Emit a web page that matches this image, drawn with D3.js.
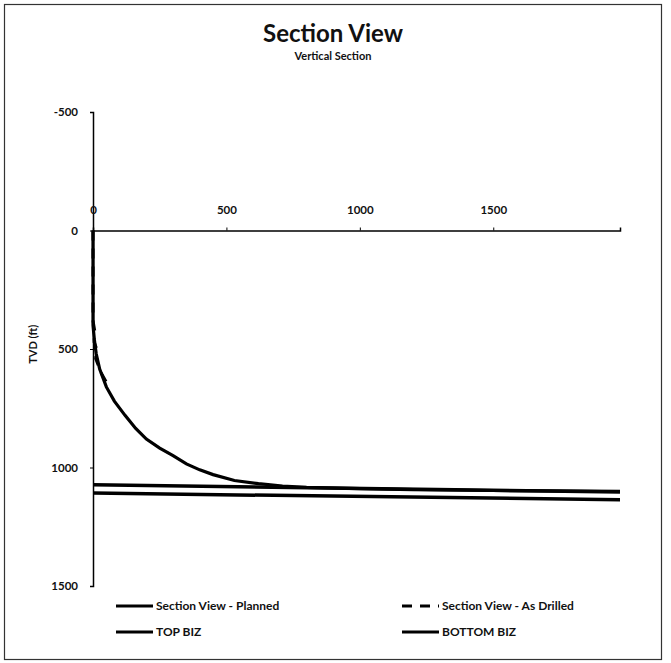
<!DOCTYPE html>
<html>
<head>
<meta charset="utf-8">
<script src="https://cdn.jsdelivr.net/npm/d3@7"></script>
<style>
  body { margin: 0; background: #fff; }
  text { font-family: Lato, "Open Sans", sans-serif; font-weight: bold; fill: #111; }
</style>
</head>
<body>
<div id="vis"></div>
<script>
var width = 671, height = 663;

// data: [vertical section (ft), TVD (ft)]
const planned = [
    [0, 0], [0, 400], [5, 460], [12, 520], [25, 585], [50, 660], [80, 720],
    [120, 780], [160, 835], [200, 880], [250, 918], [300, 950], [350, 985],
    [400, 1010], [450, 1030], [530, 1055], [620, 1068], [710, 1078],
    [800, 1084], [1000, 1089], [1200, 1093], [1500, 1097], [1975, 1101]
];
const asDrilled = [
    [0, 0], [0, 380], [6, 420], [4, 470], [14, 500], [10, 540], [30, 600], [60, 660]
];
const topBiz = [[0, 1073], [1975, 1103]];
const bottomBiz = [[0, 1108], [1975, 1136]];

const xTicks = [0, 500, 1000, 1500];
const yTicks = [-500, 0, 500, 1000, 1500];

const legendItems = [
    { name: "Section View - Planned", dash: null },
    { name: "Section View - As Drilled", dash: "10,8" },
    { name: "TOP BIZ", dash: null },
    { name: "BOTTOM BIZ", dash: null }
];

const svg = d3.select("#vis")
    .append("svg")
    .attr("width", width)
    .attr("height", height);

// chart frame
svg.append("rect")
    .attr("x", 4.5).attr("y", 4.5)
    .attr("width", 657).attr("height", 655)
    .attr("fill", "none")
    .attr("stroke", "#333")
    .attr("stroke-width", 1.2);

svg.append("text")
    .attr("x", 333).attr("y", 42)
    .attr("text-anchor", "middle")
    .style("font-size", "24px")
    .text("Section View");

svg.append("text")
    .attr("x", 333).attr("y", 60)
    .attr("text-anchor", "middle")
    .style("font-size", "11px")
    .text("Vertical Section");

const x = d3.scaleLinear().domain([0, 1975]).range([93, 620]);
const y = d3.scaleLinear().domain([-500, 1500]).range([112, 586]);

// y axis
const yAxis = svg.append("g")
    .attr("transform", `translate(${x(0)},0)`)
    .call(d3.axisLeft(y).tickValues(yTicks).tickFormat(d => String(d)).tickSize(3).tickPadding(12));
yAxis.select(".domain").attr("stroke", "#000").attr("stroke-width", 1.5);
yAxis.selectAll("text").style("font-size", "11.5px").style("font-family", "Lato, sans-serif").attr("fill", "#111");

// x axis (drawn at TVD 0, labels on top)
const xAxis = svg.append("g")
    .attr("transform", `translate(0,${y(0)})`)
    .call(d3.axisTop(x).tickValues(xTicks).tickFormat(d => String(d)).tickSize(3).tickPadding(14));
xAxis.select(".domain").attr("stroke", "#000").attr("stroke-width", 1.5);
xAxis.selectAll("text").style("font-size", "11.5px").style("font-family", "Lato, sans-serif").attr("fill", "#111");

svg.append("text")
    .attr("transform", `translate(37,${y(480)}) rotate(-90)`)
    .attr("text-anchor", "middle")
    .style("font-size", "11px")
    .text("TVD (ft)");

const line = d3.line().x(d => x(d[0])).y(d => y(d[1]));

svg.append("path").datum(topBiz)
    .attr("d", line).attr("fill", "none")
    .attr("stroke", "#000").attr("stroke-width", 3.5);
svg.append("path").datum(bottomBiz)
    .attr("d", line).attr("fill", "none")
    .attr("stroke", "#000").attr("stroke-width", 3.5);
svg.append("path").datum(planned)
    .attr("d", line)
    .attr("fill", "none")
    .attr("stroke", "#000").attr("stroke-width", 3.2);
svg.append("path").datum(asDrilled)
    .attr("d", line).attr("fill", "none")
    .attr("stroke", "#000").attr("stroke-width", 3)
    .attr("stroke-dasharray", "10,8");

// legend, 2 x 2
const legend = svg.append("g");
legendItems.forEach((d, i) => {
    const lx = i % 2 === 0 ? 116 : 402;
    const ly = i < 2 ? 606 : 632;
    legend.append("line")
        .attr("x1", lx).attr("x2", lx + 37)
        .attr("y1", ly).attr("y2", ly)
        .attr("stroke", "#000").attr("stroke-width", 3)
        .attr("stroke-dasharray", d.dash);
    legend.append("text")
        .attr("x", lx + 40).attr("y", ly + 4)
        .style("font-size", "12px")
        .text(d.name);
});
</script>
</body>
</html>
